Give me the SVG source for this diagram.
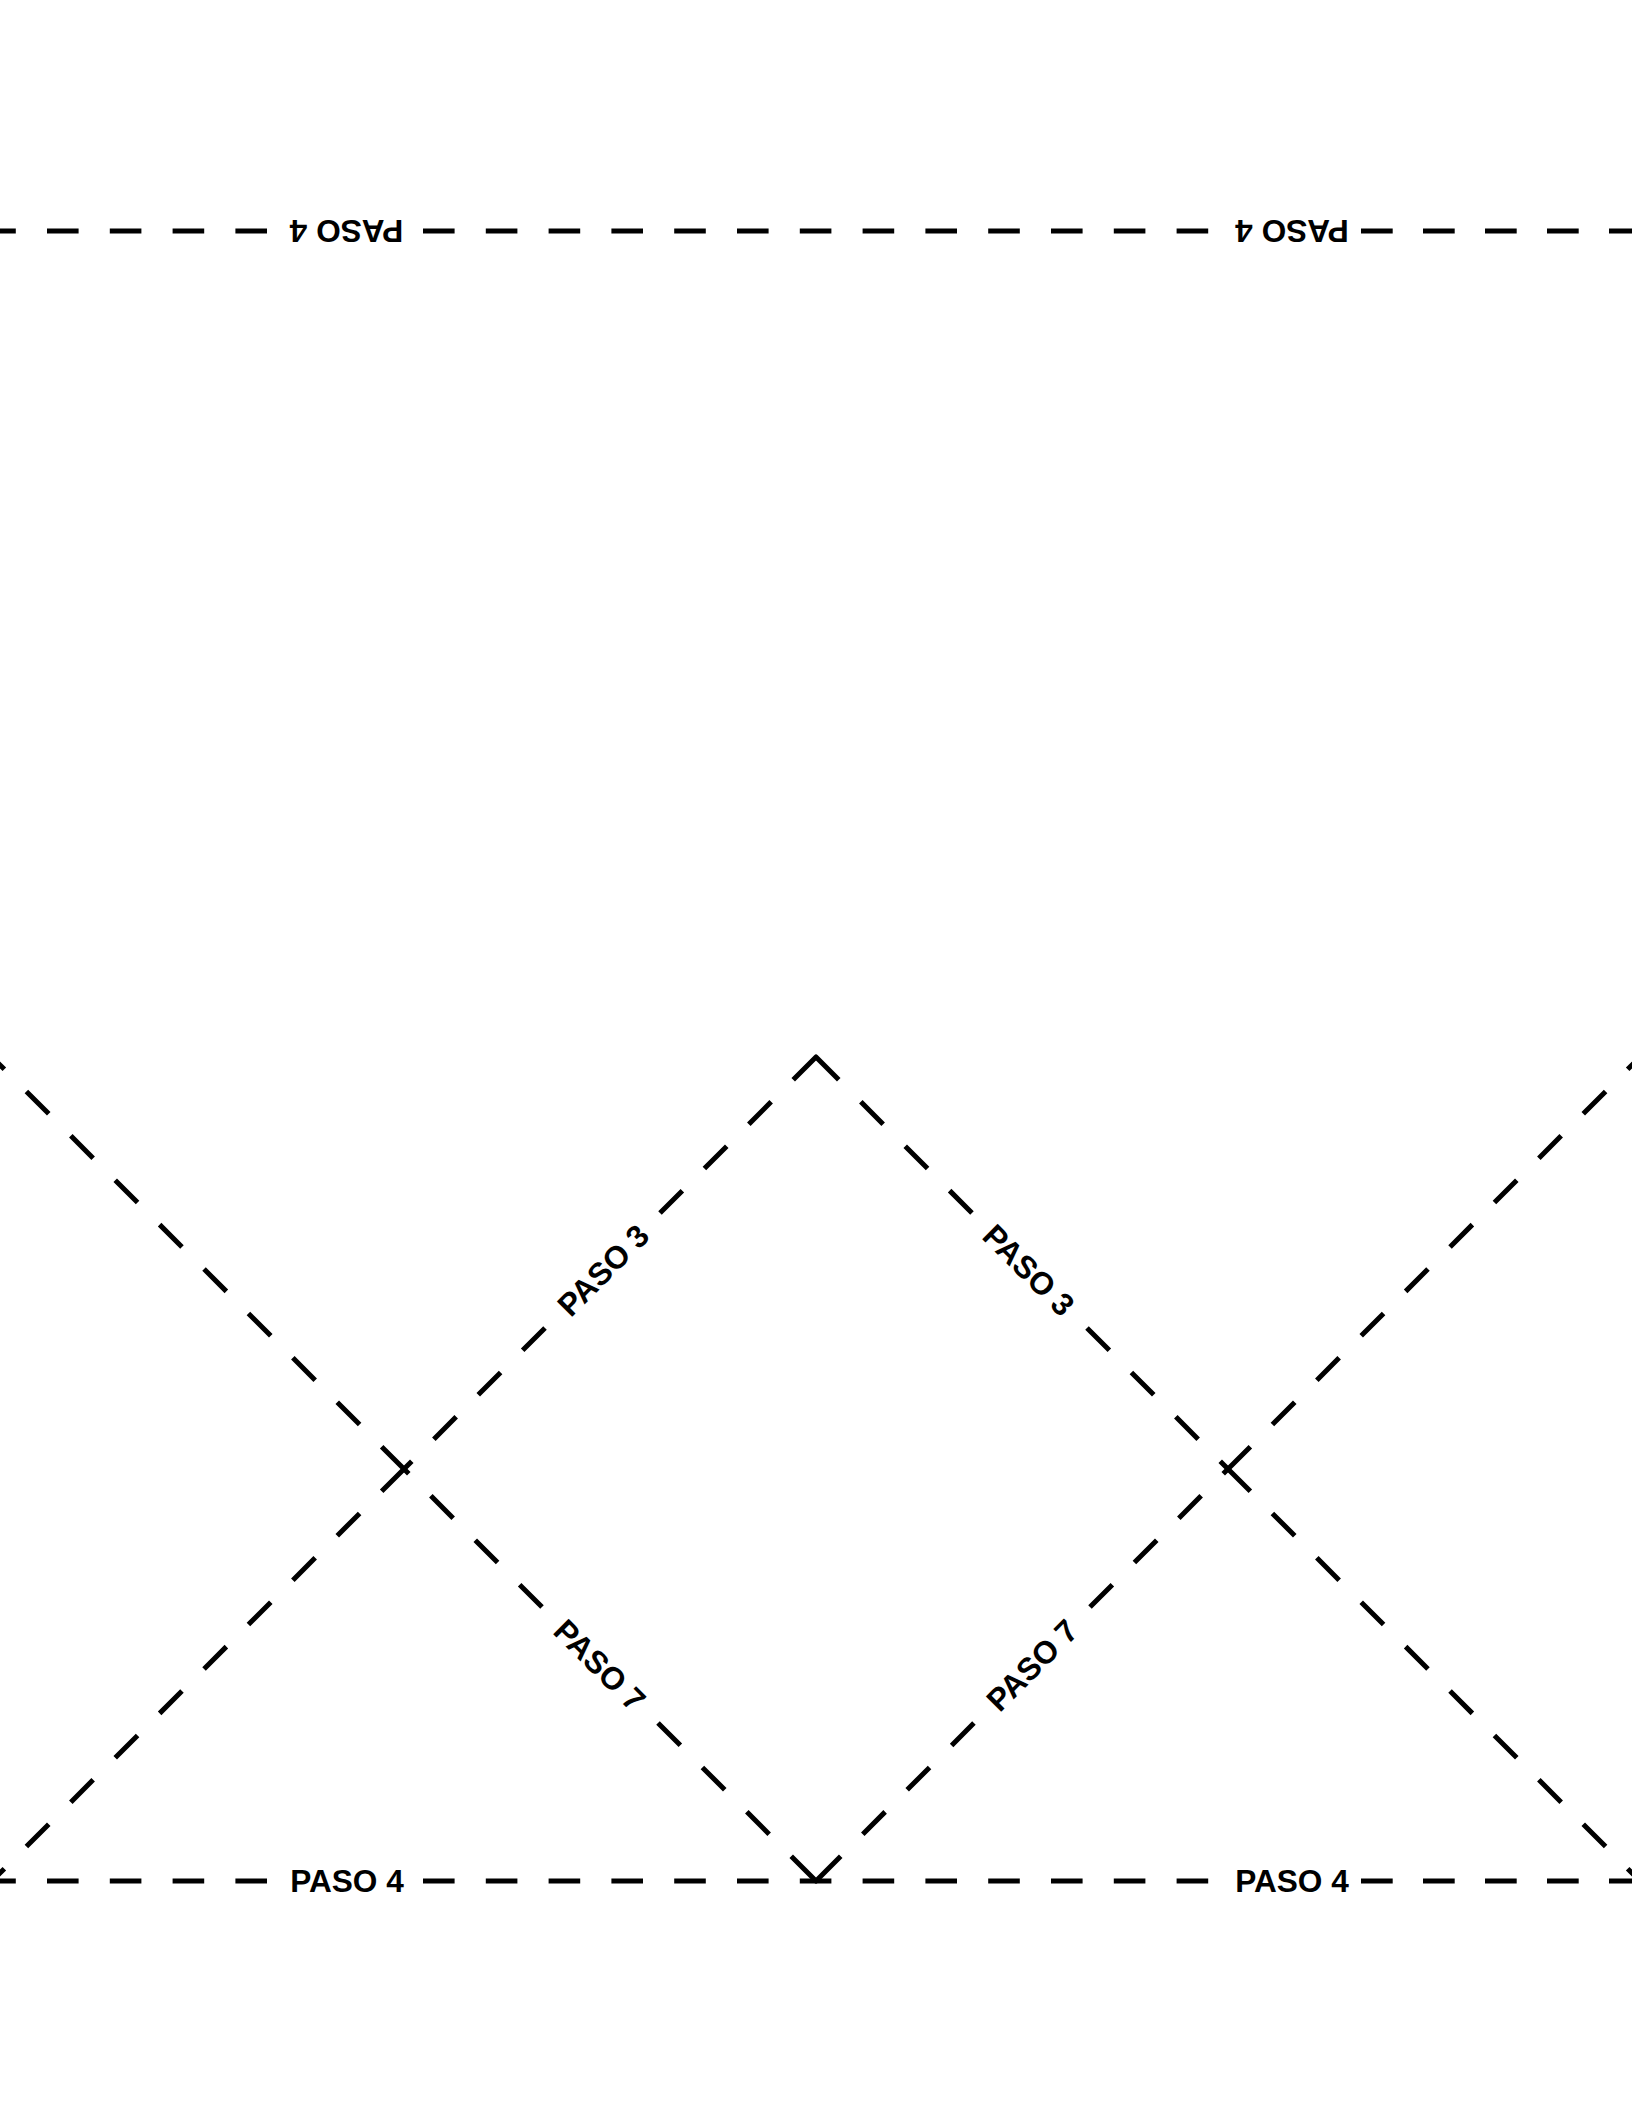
<svg xmlns="http://www.w3.org/2000/svg" width="1632" height="2112" viewBox="0 0 1632 2112">
<style>
.d{fill:none;stroke:#000;stroke-width:5;stroke-dasharray:31.6 31.2;stroke-linecap:butt}
.d2{fill:none;stroke:#000;stroke-width:5;stroke-dasharray:31.7 30.3}
.ap{fill:none;stroke:#000;stroke-width:5;stroke-linejoin:round}
.t{font-family:"Liberation Sans",Arial,Helvetica,sans-serif;font-weight:bold;font-size:31.6px;text-anchor:middle;fill:#000}
</style>
<rect width="1632" height="2112" fill="#fff"/>
<g id="connectors">
<path class="d" d="M-15.8,231 H267"/>
<path class="d" d="M423,231 H1209"/>
<path class="d2" d="M1361,231 H1645"/>
<path class="d" d="M-15.8,1881 H267"/>
<path class="d" d="M423,1881 H1209"/>
<path class="d2" d="M1361,1881 H1645"/>
<path class="ap" style="stroke-dasharray:31.6 31.2 31.6 31.2 31.6 31.2 64.4 31.2 31.6 31.2 31.6 31.2 31.6 100" d="M660,1213 L816,1057 L972,1213"/>
<path class="ap" style="stroke-dasharray:31.6 31.2 31.6 31.2 31.6 31.2 70 31.2 31.6 31.2 31.6 31.2 31.6 100" d="M658,1723 L816,1881 L974,1723"/>
<path class="d" d="M545,1328 L404,1469"/>
<path class="d" d="M404,1469 L-30,1903"/>
<path class="d" d="M542,1607 L404,1469"/>
<path class="d" d="M404,1469 L-30,1035"/>
<path class="d" d="M1087,1328 L1228,1469"/>
<path class="d" d="M1228,1469 L1662,1903"/>
<path class="d" d="M1090,1607 L1228,1469"/>
<path class="d" d="M1228,1469 L1662,1035"/>
</g>
<g id="label-top-left"><text class="t" transform="translate(346.5,231) rotate(180)" y="11.3">PASO 4</text></g>
<g id="label-top-right"><text class="t" transform="translate(1292,231) rotate(180)" y="11.3">PASO 4</text></g>
<g id="label-bottom-left"><text class="t" transform="translate(347,1881)" y="11.3">PASO 4</text></g>
<g id="label-bottom-right"><text class="t" transform="translate(1292,1881)" y="11.3">PASO 4</text></g>
<g id="label-paso3-left"><text class="t" transform="translate(603,1270) rotate(-45)" y="11.3">PASO 3</text></g>
<g id="label-paso3-right"><text class="t" transform="translate(1029,1270) rotate(45)" y="11.3">PASO 3</text></g>
<g id="label-paso7-left"><text class="t" transform="translate(600,1665) rotate(45)" y="11.3">PASO 7</text></g>
<g id="label-paso7-right"><text class="t" transform="translate(1032,1665) rotate(-45)" y="11.3">PASO 7</text></g>
</svg>
